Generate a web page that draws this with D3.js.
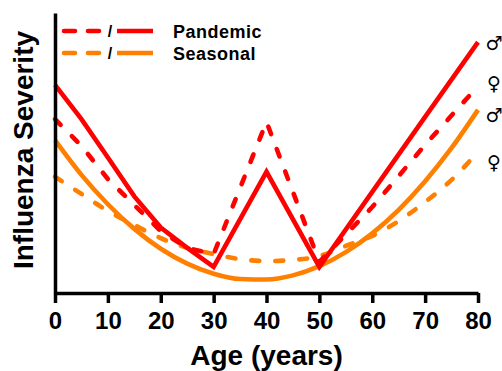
<!DOCTYPE html>
<html>
<head>
<meta charset="utf-8">
<script src="https://cdn.jsdelivr.net/npm/d3@7"></script>
<style>
  html, body { margin: 0; padding: 0; background: #fff; }
  svg { display: block; }
  text { font-family: "Liberation Sans", Arial, Helvetica, sans-serif; font-weight: bold; fill: #000; }
</style>
</head>
<body>
<script>
// ---- data (severity in arbitrary units) ----
const xTicks = [0, 10, 20, 30, 40, 50, 60, 70, 80];
const pandemicAges = [0, 5, 10, 15, 20, 25, 30, 40, 50, 60, 70, 80];
const pandemicMale = [74.3, 62.1, 48.4, 34.5, 23.4, 16.1, 9.3, 43.3, 9.3, 36.1, 62.9, 89.6];
const pandemicFemale = [62.1, 52.5, 40.7, 31.4, 22.1, 16.1, 13.9, 61.1, 11.1, 30.7, 52.9, 73.9];
const seasonalAges = [0, 5, 10, 15, 20, 25, 30, 35, 40, 45, 50, 55, 60, 65, 70, 75, 80];
const seasonalMale = [54.6, 42.2, 31.7, 22.9, 15.8, 10.5, 6.9, 5.0, 4.8, 6.3, 9.6, 14.6, 21.3, 29.7, 39.9, 51.8, 65.4];
const seasonalFemale = [41.5, 35.4, 29.3, 24.3, 19.6, 16.1, 13.9, 12.1, 11.4, 11.8, 13.2, 16.8, 20.4, 25.7, 32.5, 40.4, 50.4];
const legendLabels = ["Pandemic", "Seasonal"];
const sexSymbols = ["\u2642", "\u2640", "\u2642", "\u2640"];
const xTitle = "Age (years)";
const yTitle = "Influenza Severity";

const RED = "#ff0000", ORANGE = "#ff8000";

const W = 502, H = 371;
const svg = d3.select("body").append("svg").attr("width", W).attr("height", H);

const x = d3.scaleLinear().domain([0, 80]).range([55, 478]);
const y = d3.scaleLinear().domain([0, 100]).range([293, 13]);

// series
const series = [
  { ages: seasonalAges, vals: seasonalFemale, color: ORANGE, dashed: true, curve: d3.curveMonotoneX },
  { ages: seasonalAges, vals: seasonalMale, color: ORANGE, dashed: false, curve: d3.curveMonotoneX },
  { ages: pandemicAges, vals: pandemicFemale, color: RED, dashed: true, curve: d3.curveLinear },
  { ages: pandemicAges, vals: pandemicMale, color: RED, dashed: false, curve: d3.curveLinear }
];

series.forEach(s => {
  const pts = s.ages.map((a, i) => [a, s.vals[i]]);
  const line = d3.line().x(d => x(d[0])).y(d => y(d[1])).curve(s.curve);
  svg.append("path")
    .attr("d", line(pts))
    .attr("fill", "none")
    .attr("stroke", s.color)
    .attr("stroke-width", 4.6)
    .attr("stroke-linecap", s.dashed ? "round" : "butt")
    .attr("stroke-linejoin", "miter")
    .attr("stroke-dasharray", s.dashed ? "8,16" : null);
});

// axes
const xAxis = d3.axisBottom(x).tickValues(xTicks).tickSize(10).tickSizeOuter(0).tickPadding(9);
const gx = svg.append("g").attr("transform", `translate(0,${y(0)})`).call(xAxis);
gx.select(".domain").attr("stroke", "#000").attr("stroke-width", 3.5);
gx.selectAll(".tick line").attr("stroke", "#000").attr("stroke-width", 3.5);
gx.selectAll(".tick text").attr("font-size", 24).attr("font-family", "Liberation Sans, Arial, sans-serif").attr("font-weight", "bold");

const yAxis = d3.axisLeft(y).tickValues([]).tickSizeOuter(0);
const gy = svg.append("g").attr("transform", `translate(${x(0)},0)`).call(yAxis);
gy.select(".domain").attr("stroke", "#000").attr("stroke-width", 3.5);

// axis titles
svg.append("text").attr("x", (x(0) + x(80)) / 2).attr("y", 365)
  .attr("text-anchor", "middle").attr("font-size", 28).text(xTitle);
svg.append("text").attr("transform", `translate(33,150) rotate(-90)`)
  .attr("text-anchor", "middle").attr("font-size", 28).text(yTitle);

// legend
const legColors = [RED, ORANGE];
const legY = [31, 53];
legendLabels.forEach((lab, i) => {
  const g = svg.append("g");
  g.append("line").attr("x1", 64).attr("x2", 99).attr("y1", legY[i]).attr("y2", legY[i])
    .attr("stroke", legColors[i]).attr("stroke-width", 4.6).attr("stroke-linecap", "round")
    .attr("stroke-dasharray", "11,13");
  g.append("text").attr("x", 110).attr("y", legY[i] + 6).attr("text-anchor", "middle")
    .attr("font-size", 16).text("/");
  g.append("line").attr("x1", 117).attr("x2", 153).attr("y1", legY[i]).attr("y2", legY[i])
    .attr("stroke", legColors[i]).attr("stroke-width", 4.6);
  g.append("text").attr("x", 173).attr("y", legY[i] + 6.5).attr("font-size", 18)
    .attr("letter-spacing", 0.5).text(lab);
});

// sex symbols at the right end of each curve
const symY = [43, 83, 115, 162];
sexSymbols.forEach((s, i) => {
  svg.append("text").attr("x", 494).attr("y", symY[i]).attr("text-anchor", "middle")
    .attr("dominant-baseline", "central")
    .style("font-family", "'DejaVu Sans', sans-serif").style("font-weight", "bold")
    .attr("font-size", 19).text(s);
});
</script>
</body>
</html>
